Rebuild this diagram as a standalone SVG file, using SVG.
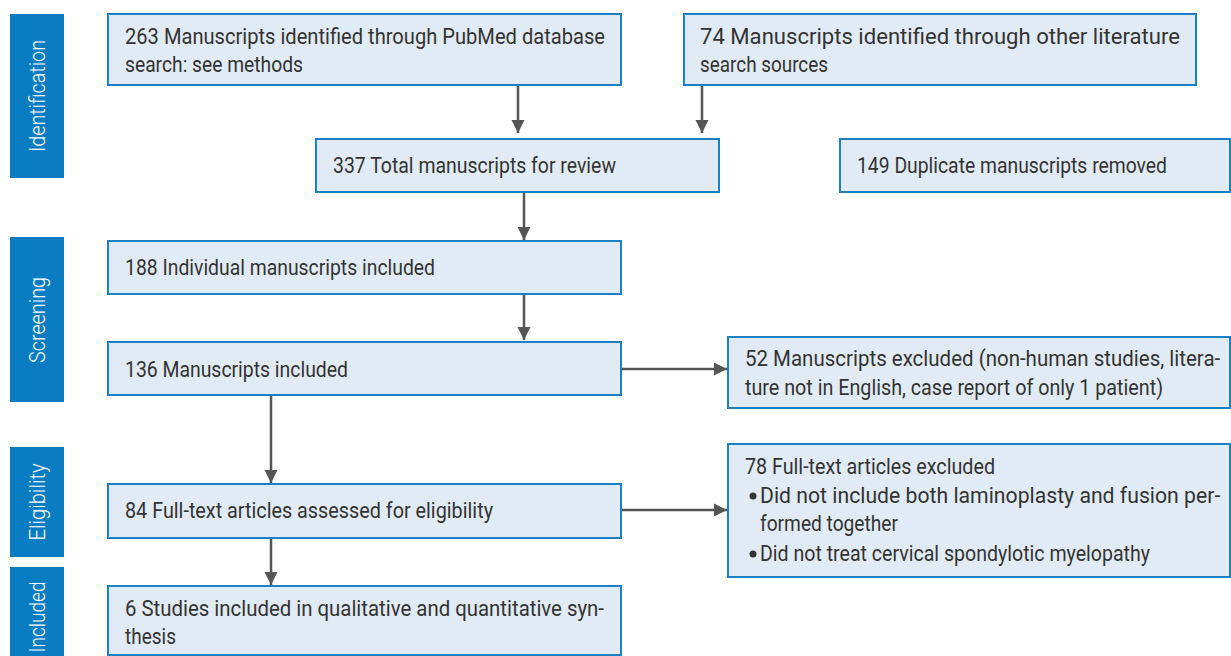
<svg xmlns="http://www.w3.org/2000/svg" width="1231" height="656" viewBox="0 0 1231 656">
<style>
.side{fill:#0a7dc2}
.st{fill:#ffffff;font-family:Roboto,"Liberation Sans",sans-serif;font-weight:300;font-size:22px}
.box{fill:#e1ebf5;stroke:#1b80c6;stroke-width:2}
.t{fill:#333333;font-family:Roboto,"Liberation Sans",sans-serif;font-size:22px}
.c{stroke:#555555;stroke-width:2.5;fill:none}
</style>
<defs>
<marker id="ah" markerUnits="userSpaceOnUse" markerWidth="14" markerHeight="14" refX="13" refY="7" orient="auto">
<path d="M0,0.5 L13,7 L0,13.5 Z" fill="#555555"/>
</marker>
</defs>
<rect width="1231" height="656" fill="#ffffff"/>
<g id="side-identification"><rect class="side" x="10" y="14" width="54" height="164"/><text class="st" transform="translate(45,96) rotate(-90)" text-anchor="middle" textLength="112" lengthAdjust="spacingAndGlyphs">Identification</text></g>
<g id="side-screening"><rect class="side" x="10" y="237" width="54" height="165"/><text class="st" transform="translate(45,320) rotate(-90)" text-anchor="middle" textLength="86" lengthAdjust="spacingAndGlyphs">Screening</text></g>
<g id="side-eligibility"><rect class="side" x="10" y="447" width="54" height="110"/><text class="st" transform="translate(45,502) rotate(-90)" text-anchor="middle" textLength="77" lengthAdjust="spacingAndGlyphs">Eligibility</text></g>
<g id="side-included"><rect class="side" x="10" y="567" width="54" height="92"/><text class="st" transform="translate(45,617) rotate(-90)" text-anchor="middle" textLength="71" lengthAdjust="spacingAndGlyphs">Included</text></g>

<g id="connectors">
<line class="c" x1="518" y1="86" x2="518" y2="133" marker-end="url(#ah)"/>
<line class="c" x1="702" y1="86" x2="702" y2="133" marker-end="url(#ah)"/>
<line class="c" x1="524" y1="193" x2="524" y2="240" marker-end="url(#ah)"/>
<line class="c" x1="524" y1="295" x2="524" y2="340" marker-end="url(#ah)"/>
<line class="c" x1="271" y1="396" x2="271" y2="483" marker-end="url(#ah)"/>
<line class="c" x1="271" y1="539" x2="271" y2="585" marker-end="url(#ah)"/>
<line class="c" x1="622" y1="369" x2="727" y2="369" marker-end="url(#ah)"/>
<line class="c" x1="622" y1="510" x2="727" y2="510" marker-end="url(#ah)"/>
</g>

<g id="n263"><rect class="box" x="108" y="14" width="513" height="71"/>
<text class="t" x="125" y="44" textLength="480" lengthAdjust="spacingAndGlyphs">263 Manuscripts identified through PubMed database</text>
<text class="t" x="125" y="72" textLength="178" lengthAdjust="spacingAndGlyphs">search: see methods</text></g>
<g id="n74"><rect class="box" x="684" y="14" width="512" height="71"/>
<text class="t" x="700" y="44" textLength="480" lengthAdjust="spacingAndGlyphs">74 Manuscripts identified through other literature</text>
<text class="t" x="700" y="72" textLength="128" lengthAdjust="spacingAndGlyphs">search sources</text></g>
<g id="n337"><rect class="box" x="316" y="139" width="403" height="53"/>
<text class="t" x="333" y="173" textLength="283" lengthAdjust="spacingAndGlyphs">337 Total manuscripts for review</text></g>
<g id="n149"><rect class="box" x="840" y="139" width="390" height="53"/>
<text class="t" x="857" y="173" textLength="310" lengthAdjust="spacingAndGlyphs">149 Duplicate manuscripts removed</text></g>
<g id="n188"><rect class="box" x="108" y="241" width="513" height="53"/>
<text class="t" x="125" y="275" textLength="310" lengthAdjust="spacingAndGlyphs">188 Individual manuscripts included</text></g>
<g id="n136"><rect class="box" x="108" y="342" width="513" height="53"/>
<text class="t" x="125" y="377" textLength="223" lengthAdjust="spacingAndGlyphs">136 Manuscripts included</text></g>
<g id="n52"><rect class="box" x="728" y="337" width="502" height="71"/>
<text class="t" transform="translate(745,366) scale(0.88,1)" x="0" y="0" textLength="540" lengthAdjust="spacingAndGlyphs">52 Manuscripts excluded (non-human studies, litera-</text>
<text class="t" x="745" y="395" textLength="418" lengthAdjust="spacingAndGlyphs">ture not in English, case report of only 1 patient)</text></g>
<g id="n84"><rect class="box" x="108" y="484" width="513" height="54"/>
<text class="t" x="125" y="518" textLength="368" lengthAdjust="spacingAndGlyphs">84 Full-text articles assessed for eligibility</text></g>
<g id="n78"><rect class="box" x="728" y="444" width="502" height="133"/>
<text class="t" x="745" y="474" textLength="250" lengthAdjust="spacingAndGlyphs">78 Full-text articles excluded</text>
<circle cx="753" cy="496" r="3.5" fill="#333333"/>
<text class="t" transform="translate(760,503) scale(0.88,1)" x="0" y="0" textLength="523" lengthAdjust="spacingAndGlyphs">Did not include both laminoplasty and fusion per-</text>
<text class="t" x="760" y="531" textLength="138" lengthAdjust="spacingAndGlyphs">formed together</text>
<circle cx="753" cy="554" r="3.5" fill="#333333"/>
<text class="t" x="760" y="561" textLength="390" lengthAdjust="spacingAndGlyphs">Did not treat cervical spondylotic myelopathy</text></g>
<g id="n6"><rect class="box" x="108" y="586" width="513" height="69"/>
<text class="t" x="125" y="616" textLength="479" lengthAdjust="spacingAndGlyphs">6 Studies included in qualitative and quantitative syn-</text>
<text class="t" x="125" y="644" textLength="51" lengthAdjust="spacingAndGlyphs">thesis</text></g>
</svg>
